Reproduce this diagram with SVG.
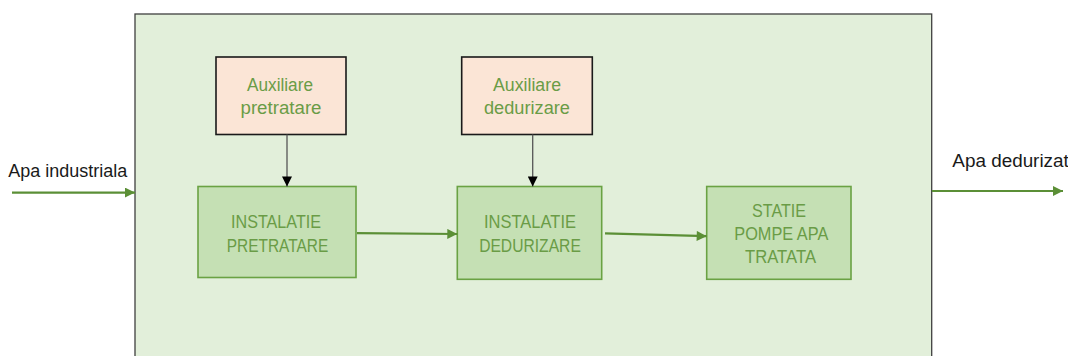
<svg xmlns="http://www.w3.org/2000/svg" width="1068" height="356" viewBox="0 0 1068 356">
  <style>
    .frame { fill: #e2efda; stroke: #3f3f3f; stroke-width: 1.3; }
    .aux { fill: #fbe5d6; stroke: #1a1a1a; stroke-width: 1.6; }
    .unit { fill: #c5e0b4; stroke: #6aa243; stroke-width: 1.6; }
    .lbl { font-family: "Liberation Sans", Arial, sans-serif; font-size: 17.5px; fill: #6a9c46; text-anchor: middle; }
    .ext { font-family: "Liberation Sans", Arial, sans-serif; font-size: 17.5px; fill: #1a1a1a; }
    .flow { stroke: #5b8f36; stroke-width: 2.2; fill: none; }
    .feed { stroke: #555555; stroke-width: 1.3; fill: none; }
  </style>
  <defs>
    <marker id="headGreen" viewBox="0 0 10 10" refX="10" refY="5" markerWidth="11" markerHeight="10" markerUnits="userSpaceOnUse" orient="auto">
      <path d="M0,0 L10,5 L0,10 Z" fill="#5b8f36"/>
    </marker>
    <marker id="headBlack" viewBox="0 0 10 10" refX="10" refY="5" markerWidth="11" markerHeight="10" markerUnits="userSpaceOnUse" orient="auto">
      <path d="M0,0 L10,5 L0,10 Z" fill="#000000"/>
    </marker>
  </defs>

  <!-- plant boundary -->
  <g id="plant">
    <rect class="frame" x="135" y="14" width="796.7" height="360"/>
  </g>

  <!-- process blocks -->
  <g id="aux-pretratare">
    <rect class="aux" x="216" y="57" width="130" height="77.5"/>
    <text class="lbl" x="280" y="90.7" textLength="66" lengthAdjust="spacingAndGlyphs">Auxiliare</text>
    <text class="lbl" x="281" y="113.5" textLength="81" lengthAdjust="spacingAndGlyphs">pretratare</text>
  </g>

  <g id="aux-dedurizare">
    <rect class="aux" x="461.7" y="57" width="130.6" height="77.5"/>
    <text class="lbl" x="527" y="90.7" textLength="68" lengthAdjust="spacingAndGlyphs">Auxiliare</text>
    <text class="lbl" x="527" y="113.5" textLength="86" lengthAdjust="spacingAndGlyphs">dedurizare</text>
  </g>

  <g id="instalatie-pretratare">
    <rect class="unit" x="198" y="186.5" width="158" height="91"/>
    <text class="lbl" x="276" y="227.7" textLength="90" lengthAdjust="spacingAndGlyphs">INSTALATIE</text>
    <text class="lbl" x="277.5" y="251.5" textLength="101.6" lengthAdjust="spacingAndGlyphs">PRETRATARE</text>
  </g>

  <g id="instalatie-dedurizare">
    <rect class="unit" x="457.3" y="186.5" width="144.4" height="92.8"/>
    <text class="lbl" x="530" y="227.7" textLength="92" lengthAdjust="spacingAndGlyphs">INSTALATIE</text>
    <text class="lbl" x="530" y="251.5" textLength="101.7" lengthAdjust="spacingAndGlyphs">DEDURIZARE</text>
  </g>

  <g id="statie-pompe">
    <rect class="unit" x="706.7" y="186.5" width="144.3" height="92.8"/>
    <text class="lbl" x="779" y="216.7" textLength="54" lengthAdjust="spacingAndGlyphs">STATIE</text>
    <text class="lbl" x="781.3" y="239.5" textLength="94" lengthAdjust="spacingAndGlyphs">POMPE APA</text>
    <text class="lbl" x="780.5" y="262.7" textLength="71" lengthAdjust="spacingAndGlyphs">TRATATA</text>
  </g>

  <!-- external stream labels -->
  <g id="labels">
    <text class="ext" x="8.3" y="177.3" textLength="119" lengthAdjust="spacingAndGlyphs">Apa industriala</text>
    <text class="ext" x="952.3" y="166.7" textLength="127" lengthAdjust="spacingAndGlyphs">Apa dedurizata</text>
  </g>

  <!-- connectors -->
  <g id="connectors">
    <line class="flow" x1="12" y1="192.6" x2="135" y2="192.6" marker-end="url(#headGreen)"/>
    <line class="flow" x1="932" y1="191" x2="1063" y2="191" marker-end="url(#headGreen)"/>
    <line class="flow" x1="357" y1="233.2" x2="457.3" y2="234" marker-end="url(#headGreen)"/>
    <line class="flow" x1="605" y1="233.3" x2="706.7" y2="236.2" marker-end="url(#headGreen)"/>
    <line class="feed" x1="287" y1="134.5" x2="287" y2="186.5" marker-end="url(#headBlack)"/>
    <line class="feed" x1="532.7" y1="134.5" x2="532.7" y2="186.5" marker-end="url(#headBlack)"/>
  </g>
</svg>
